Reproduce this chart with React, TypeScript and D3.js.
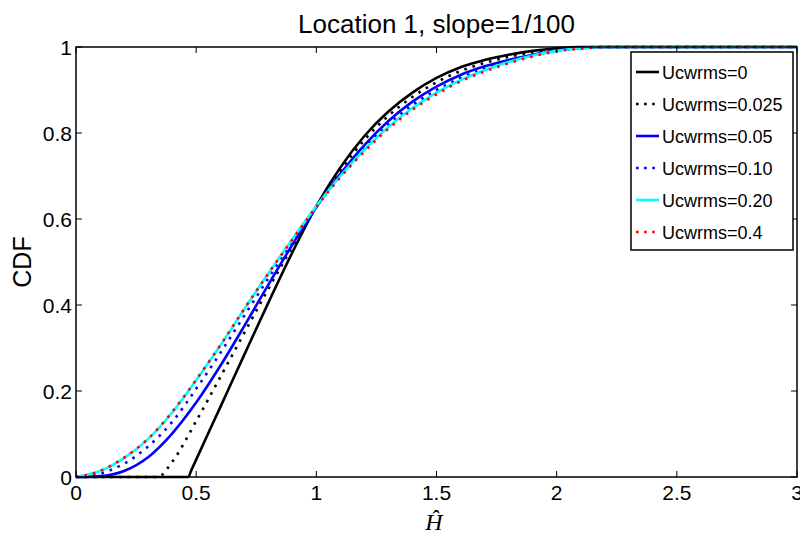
import React from "react";
import * as d3 from "d3";

// H-hat values at which the CDF values were read
const hU0 = [0, 0.467, 0.48, 0.6, 0.7, 0.8, 0.9, 1.0, 1.1, 1.2, 1.3, 1.4, 1.5, 1.6, 1.7, 1.8, 1.9, 2.0, 2.1, 3.0];
const cdfU0 = [0, 0, 0.016, 0.162, 0.284, 0.405, 0.522, 0.63, 0.72, 0.793, 0.85, 0.894, 0.928, 0.953, 0.97, 0.982, 0.991, 0.997, 1, 1];

const hU0025 = [0, 0.34, 0.4, 0.5, 0.6, 0.7, 0.8, 0.9, 1.0, 1.1, 1.2, 1.3, 1.4, 1.5, 1.6, 1.7, 1.8, 1.9, 2.0, 2.1, 2.2, 3.0];
const cdfU0025 = [0, 0, 0.035, 0.13, 0.232, 0.335, 0.437, 0.535, 0.628, 0.712, 0.784, 0.84, 0.884, 0.918, 0.944, 0.963, 0.977, 0.988, 0.995, 0.999, 1, 1];

const hU005 = [0, 0.1, 0.2, 0.3, 0.4, 0.5, 0.6, 0.7, 0.8, 0.9, 1.0, 1.1, 1.2, 1.3, 1.4, 1.5, 1.6, 1.7, 1.8, 1.9, 2.0, 2.1, 2.2, 3.0];
const cdfU005 = [0, 0.002, 0.014, 0.046, 0.101, 0.173, 0.258, 0.351, 0.447, 0.54, 0.628, 0.705, 0.772, 0.828, 0.873, 0.908, 0.935, 0.955, 0.97, 0.982, 0.992, 0.998, 1, 1];

const hU010 = [0, 0.1, 0.2, 0.3, 0.4, 0.5, 0.6, 0.7, 0.8, 0.9, 1.0, 1.1, 1.2, 1.3, 1.4, 1.5, 1.6, 1.7, 1.8, 1.9, 2.0, 2.1, 2.2, 3.0];
const cdfU010 = [0, 0.008, 0.031, 0.071, 0.128, 0.205, 0.288, 0.375, 0.462, 0.548, 0.628, 0.702, 0.766, 0.82, 0.865, 0.9, 0.928, 0.95, 0.967, 0.981, 0.991, 0.997, 1, 1];

const hU020 = [0, 0.1, 0.2, 0.3, 0.4, 0.5, 0.6, 0.7, 0.8, 0.9, 1.0, 1.1, 1.2, 1.3, 1.4, 1.5, 1.6, 1.7, 1.8, 1.9, 2.0, 2.1, 2.2, 3.0];
const cdfU020 = [0, 0.014, 0.044, 0.088, 0.15, 0.225, 0.305, 0.39, 0.473, 0.553, 0.63, 0.7, 0.761, 0.814, 0.858, 0.894, 0.923, 0.946, 0.965, 0.98, 0.991, 0.997, 1, 1];

const hU04 = [0, 0.1, 0.2, 0.3, 0.4, 0.5, 0.6, 0.7, 0.8, 0.9, 1.0, 1.1, 1.2, 1.3, 1.4, 1.5, 1.6, 1.7, 1.8, 1.9, 2.0, 2.1, 2.2, 3.0];
const cdfU04 = [0, 0.014, 0.045, 0.089, 0.151, 0.226, 0.306, 0.391, 0.473, 0.552, 0.628, 0.697, 0.757, 0.81, 0.854, 0.89, 0.92, 0.943, 0.962, 0.978, 0.99, 0.996, 1, 1];

const seriesLabels = ["Ucwrms=0", "Ucwrms=0.025", "Ucwrms=0.05", "Ucwrms=0.10", "Ucwrms=0.20", "Ucwrms=0.4"];
const seriesColors = ["#000000", "#000000", "#0000ff", "#0000ff", "#00ffff", "#ff0000"];
const seriesDotted = [false, true, false, true, false, true];

const xTicks = [0, 0.5, 1, 1.5, 2, 2.5, 3];
const yTicks = [0, 0.2, 0.4, 0.6, 0.8, 1];
const titleText = "Location 1, slope=1/100";
const yLabelText = "CDF";
const xLabelText = "Ĥ";

const W = 800;
const H = 536;
const left = 76;
const right = 797;
const top = 47;
const bottom = 477;

export default function App() {
  const x = d3.scaleLinear().domain([0, 3]).range([left, right]);
  const y = d3.scaleLinear().domain([0, 1]).range([bottom, top]);

  const xs = [hU0, hU0025, hU005, hU010, hU020, hU04];
  const ys = [cdfU0, cdfU0025, cdfU005, cdfU010, cdfU020, cdfU04];

  const line = d3
    .line<[number, number]>()
    .x((d) => x(d[0]))
    .y((d) => y(d[1]))
    .curve(d3.curveMonotoneX);

  const series = xs.map((arr, i) => arr.map((v, j) => [v, ys[i][j]] as [number, number]));

  const fmt = (v: number) => (v === 0 ? "0" : String(v));
  const tickLen = 6;
  const font = "'Liberation Sans', Arial, sans-serif";

  const legX = 631;
  const legY = 52;
  const legW = 162;
  const legH = 198;
  const rowH = 32;

  return (
    <svg width={W} height={H} style={{ position: "absolute", left: 0, top: 0, background: "#fff" }}>
      <rect x={0} y={0} width={W} height={H} fill="#fff" />
      <text x={(left + right) / 2} y={33} textAnchor="middle" fontFamily={font} fontSize={26} fill="#000">
        {titleText}
      </text>

      <defs>
        <clipPath id="plotclip">
          <rect x={left} y={top - 2} width={right - left} height={bottom - top + 4} />
        </clipPath>
      </defs>

      <g clipPath="url(#plotclip)">
        {series.map((pts, i) => (
          <path
            key={i}
            d={line(pts) || ""}
            fill="none"
            stroke={seriesColors[i]}
            strokeWidth={2.6}
            strokeDasharray={seriesDotted[i] ? "2.6,6" : undefined}
          />
        ))}
      </g>

      {/* axes box */}
      <rect x={left} y={top} width={right - left} height={bottom - top} fill="none" stroke="#000" strokeWidth={1.5} />

      {xTicks.map((t) => (
        <g key={"x" + t}>
          <line x1={x(t)} x2={x(t)} y1={bottom} y2={bottom - tickLen} stroke="#000" strokeWidth={1} />
          <line x1={x(t)} x2={x(t)} y1={top} y2={top + tickLen} stroke="#000" strokeWidth={1} />
          <text x={x(t)} y={500} textAnchor="middle" fontFamily={font} fontSize={21} fill="#000">
            {fmt(t)}
          </text>
        </g>
      ))}
      {yTicks.map((t) => (
        <g key={"y" + t}>
          <line x1={left} x2={left + tickLen} y1={y(t)} y2={y(t)} stroke="#000" strokeWidth={1} />
          <line x1={right} x2={right - tickLen} y1={y(t)} y2={y(t)} stroke="#000" strokeWidth={1} />
          <text x={left - 4} y={y(t) + 7.5} textAnchor="end" fontFamily={font} fontSize={21} fill="#000">
            {fmt(t)}
          </text>
        </g>
      ))}

      <text
        transform={`translate(31, ${(top + bottom) / 2}) rotate(-90)`}
        textAnchor="middle"
        fontFamily={font}
        fontSize={25}
        fill="#000"
      >
        {yLabelText}
      </text>

      <text
        x={434}
        y={530}
        textAnchor="middle"
        fontFamily="'Liberation Serif', 'DejaVu Serif', serif"
        fontStyle="italic"
        fontSize={24}
        fill="#000"
      >
        {xLabelText}
      </text>

      {/* legend */}
      <rect x={legX} y={legY} width={legW} height={legH} fill="#fff" stroke="#000" strokeWidth={1.5} />
      {seriesLabels.map((lab, i) => {
        const cy = legY + 20 + i * rowH;
        return (
          <g key={lab}>
            <line
              x1={legX + 5}
              x2={legX + 28}
              y1={cy}
              y2={cy}
              stroke={seriesColors[i]}
              strokeWidth={2.6}
              strokeDasharray={seriesDotted[i] ? "2.6,5.5" : undefined}
            />
            <text x={legX + 31} y={cy + 6.5} fontFamily={font} fontSize={18} fill="#000">
              {lab}
            </text>
          </g>
        );
      })}
    </svg>
  );
}
